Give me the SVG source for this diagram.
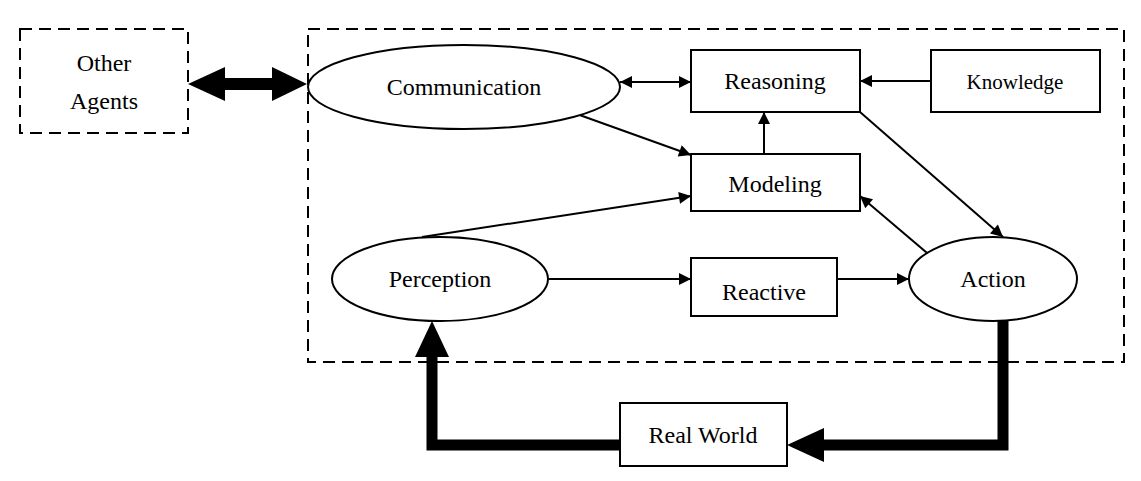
<svg xmlns="http://www.w3.org/2000/svg" width="1141" height="481" viewBox="0 0 1141 481">
<style>
.n{fill:#fff;stroke:#000;stroke-width:2}
.d{fill:none;stroke:#000;stroke-width:2;stroke-dasharray:12 7}
.t{font-family:"Liberation Serif",serif;font-size:24px;text-anchor:middle;dominant-baseline:central}
.c{fill:none;stroke:#000;stroke-width:2}
.k{fill:none;stroke:#000;stroke-width:11}
</style>
<defs>
<marker id="a" viewBox="0 0 10 10" refX="10" refY="5" markerWidth="13" markerHeight="12" markerUnits="userSpaceOnUse" orient="auto-start-reverse"><path d="M0,0L10,5L0,10z"/></marker>
</defs>
<rect class="d" x="308" y="29" width="816" height="333"/>
<g id="connectors">
<path d="M188,84L225,67V78H272V67L307,84L272,101V90H225V101z"/>
<line class="c" x1="620" y1="82" x2="691" y2="82" marker-start="url(#a)" marker-end="url(#a)"/>
<line class="c" x1="931" y1="81" x2="860" y2="81" marker-end="url(#a)"/>
<line class="c" x1="764" y1="154" x2="764" y2="112" marker-end="url(#a)"/>
<line class="c" x1="574" y1="113" x2="691" y2="155" marker-end="url(#a)"/>
<line class="c" x1="422" y1="237" x2="691" y2="196" marker-end="url(#a)"/>
<line class="c" x1="860" y1="112" x2="1003" y2="237" marker-end="url(#a)"/>
<line class="c" x1="933" y1="258" x2="860" y2="196" marker-end="url(#a)"/>
<line class="c" x1="548" y1="279" x2="691" y2="279" marker-end="url(#a)"/>
<line class="c" x1="837" y1="279" x2="909" y2="279" marker-end="url(#a)"/>
<path class="k" d="M1003,321V445H822"/>
<path d="M787,445L824,428V462z"/>
<path class="k" d="M620,445H432V355"/>
<path d="M432,321L415,357H449z"/>
</g>
<g id="other"><rect class="d" x="20" y="29" width="168" height="104"/><text class="t" x="104" y="63">Other</text><text class="t" x="104" y="101">Agents</text></g>
<g id="communication"><ellipse class="n" cx="464" cy="87" rx="156" ry="42"/><text class="t" x="464" y="87">Communication</text></g>
<g id="reasoning"><rect class="n" x="691" y="50" width="169" height="62"/><text class="t" x="775" y="81">Reasoning</text></g>
<g id="knowledge"><rect class="n" x="931" y="50" width="169" height="62"/><text class="t" x="1015" y="82" style="font-size:21px">Knowledge</text></g>
<g id="modeling"><rect class="n" x="691" y="154" width="169" height="57"/><text class="t" x="775" y="184">Modeling</text></g>
<g id="perception"><ellipse class="n" cx="440" cy="279" rx="108" ry="42"/><text class="t" x="440" y="279">Perception</text></g>
<g id="reactive"><rect class="n" x="691" y="258" width="146" height="58"/><text class="t" x="764" y="292">Reactive</text></g>
<g id="action"><ellipse class="n" cx="993" cy="279" rx="84" ry="42"/><text class="t" x="993" y="279">Action</text></g>
<g id="realworld"><rect class="n" x="620" y="403" width="167" height="63"/><text class="t" x="703" y="435">Real World</text></g>
</svg>
